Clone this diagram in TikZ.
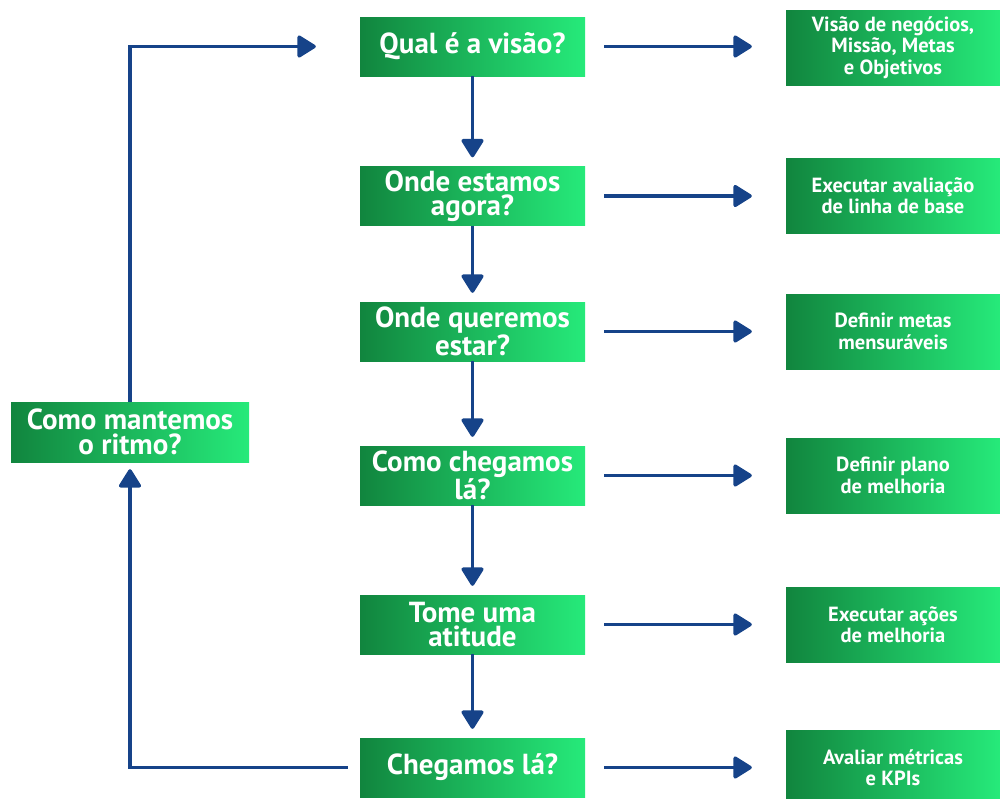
\documentclass[tikz,border=0pt]{standalone}
\usepackage{fontspec}
\setmainfont{PT Sans}
\usetikzlibrary{arrows.meta}

\definecolor{navy}{RGB}{22,67,137}
\definecolor{darkgreen}{RGB}{17,133,62}
\definecolor{lightgreen}{RGB}{38,234,122}

\begin{document}
\begin{tikzpicture}[
            x=1pt, y=-1pt,
            every node/.style={text=white, align=center, inner sep=0pt},
            question/.style={left color=darkgreen, right color=lightgreen, minimum width=225pt, minimum height=59pt,
                                           font=\fontsize{29}{24.5}\selectfont\bfseries},
            answer/.style={left color=darkgreen, right color=lightgreen, minimum width=214pt, minimum height=75pt,
                                           font=\fontsize{20.5}{21.5}\selectfont\bfseries},
            arrow/.style={-{Triangle[round, length=20pt, width=24pt]}, line width=3.5pt, navy}
      ]
      \useasboundingbox (0,0) rectangle (1000,798);

      % Questions
      \node[question] (vision) at (472.5, 46.5) {Qual é a visão?};
      \node[question] (now)    at (472.5, 196)  {Onde estamos\\agora?};
      \node[question] (want)   at (472.5, 331.5) {Onde queremos\\estar?};
      \node[question] (how)    at (472.5, 475.5) {Como chegamos\\lá?};
      \node[question] (act)    at (472.5, 624.5) {Tome uma\\atitude};
      \node[question] (there)  at (472.5, 767.5) {Chegamos lá?};
      \node[question, minimum width=238pt, minimum height=60pt] (pace) at (130, 432) {Como mantemos\\o ritmo?};

      % Answers
      \node[answer] (goals)   at (893, 47.5)  {Visão de negócios,\\Missão, Metas\\e Objetivos};
      \node[answer] (base)    at (893, 195.5) {Executar avaliação\\de linha de base};
      \node[answer] (metrics) at (893, 331.5) {Definir metas\\mensuráveis};
      \node[answer] (plan)    at (893, 475.5) {Definir plano\\de melhoria};
      \node[answer] (actions) at (893, 624.5) {Executar ações\\de melhoria};
      \node[answer] (kpis)    at (893, 767.5) {Avaliar métricas\\e KPIs};

      % Down the column
      \draw[arrow, shorten >=9pt] (vision) -- (now);
      \draw[arrow, shorten >=9pt] (now) -- (want);
      \draw[arrow, shorten >=9pt] (want) -- (how);
      \draw[arrow, shorten >=9pt] (how) -- (act);
      \draw[arrow, shorten >=9pt] (act) -- (there);

      % Across to the answers
      \draw[arrow, shorten <=19pt, shorten >=34pt] (vision.east) -- (vision.east -| goals.west);
      \draw[arrow, shorten <=19pt, shorten >=34pt] (now.east) -- (now.east -| base.west);
      \draw[arrow, shorten <=19pt, shorten >=34pt] (want.east) -- (want.east -| metrics.west);
      \draw[arrow, shorten <=19pt, shorten >=34pt] (how.east) -- (how.east -| plan.west);
      \draw[arrow, shorten <=19pt, shorten >=34pt] (act.east) -- (act.east -| actions.west);
      \draw[arrow, shorten <=19pt, shorten >=34pt] (there.east) -- (there.east -| kpis.west);

      % Loop back
      \draw[arrow, shorten <=12pt, shorten >=7pt] (there.west) -| (pace.south);
      \draw[arrow, shorten >=44pt] (pace.north) |- (vision.west);
\end{tikzpicture}
\end{document}
